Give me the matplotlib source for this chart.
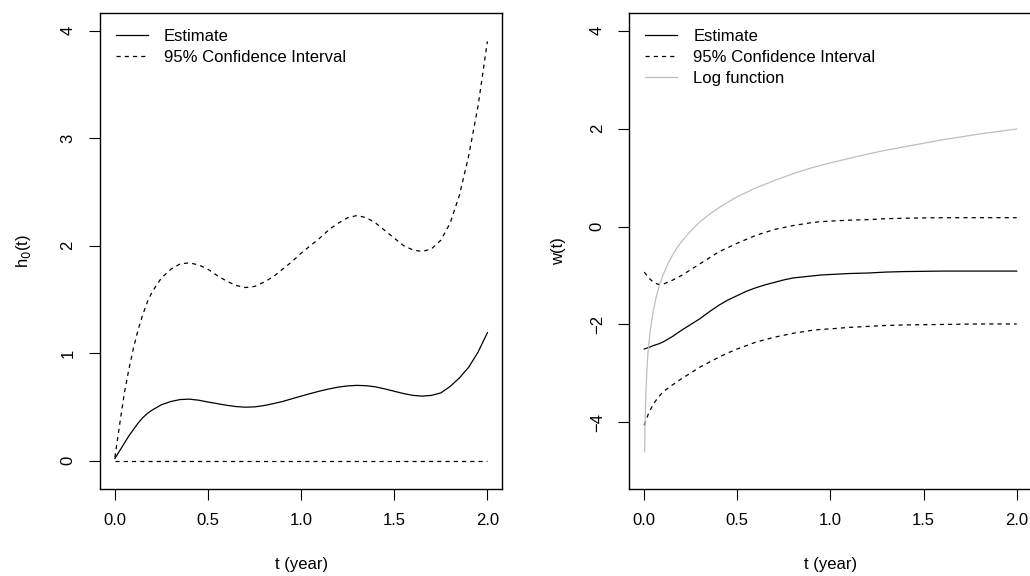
import numpy as np
import matplotlib
matplotlib.use("Agg")
import matplotlib.pyplot as plt

plt.rcParams['font.family'] = ['Liberation Sans', 'DejaVu Sans']
plt.rcParams['font.size'] = 12

# left panel: baseline hazard h0(t)
t_h = [0.0, 0.025, 0.05, 0.075, 0.1, 0.125, 0.15, 0.175, 0.2, 0.25, 0.3, 0.35,
       0.4, 0.45, 0.5, 0.55, 0.6, 0.65, 0.7, 0.75, 0.8, 0.85, 0.9, 0.95, 1.0,
       1.05, 1.1, 1.15, 1.2, 1.25, 1.3, 1.35, 1.4, 1.45, 1.5, 1.55, 1.6, 1.65,
       1.7, 1.75, 1.8, 1.85, 1.9, 1.95, 2.0]
h_est = [0.02, 0.09, 0.16, 0.23, 0.29, 0.35, 0.40, 0.44, 0.47, 0.52, 0.55,
         0.568, 0.572, 0.562, 0.545, 0.53, 0.515, 0.503, 0.497, 0.50, 0.512,
         0.53, 0.55, 0.575, 0.60, 0.624, 0.647, 0.667, 0.684, 0.695, 0.70,
         0.697, 0.686, 0.667, 0.645, 0.624, 0.607, 0.60, 0.607, 0.63, 0.69,
         0.77, 0.87, 1.01, 1.19]
h_upper = [0.03, 0.33, 0.62, 0.85, 1.05, 1.22, 1.36, 1.48, 1.57, 1.70, 1.78,
           1.83, 1.84, 1.82, 1.78, 1.72, 1.67, 1.63, 1.61, 1.62, 1.66, 1.71,
           1.78, 1.85, 1.93, 2.00, 2.07, 2.15, 2.21, 2.26, 2.28, 2.26, 2.21,
           2.14, 2.07, 2.00, 1.96, 1.945, 1.97, 2.05, 2.21, 2.47, 2.84, 3.30,
           3.90]
h_lower = [0.0] * len(t_h)

# right panel: w(t)
t_w = [0.0, 0.025, 0.05, 0.075, 0.1, 0.15, 0.2, 0.25, 0.3, 0.35, 0.4, 0.45,
       0.5, 0.55, 0.6, 0.65, 0.7, 0.75, 0.8, 0.85, 0.9, 0.95, 1.0, 1.1, 1.2,
       1.3, 1.4, 1.6, 1.8, 2.0]
w_est = [-2.50, -2.47, -2.43, -2.40, -2.36, -2.25, -2.12, -2.00, -1.88, -1.74,
         -1.61, -1.50, -1.41, -1.32, -1.25, -1.19, -1.14, -1.09, -1.05, -1.03,
         -1.01, -0.99, -0.98, -0.96, -0.95, -0.93, -0.92, -0.91, -0.91, -0.91]
w_upper = [-0.93, -1.05, -1.14, -1.18, -1.18, -1.10, -1.00, -0.88, -0.76,
           -0.64, -0.52, -0.43, -0.34, -0.26, -0.18, -0.12, -0.06, -0.02, 0.02,
           0.05, 0.08, 0.10, 0.11, 0.13, 0.14, 0.16, 0.17, 0.18, 0.18, 0.18]
w_lower = [-4.06, -3.80, -3.62, -3.49, -3.38, -3.24, -3.11, -2.99, -2.87, -2.77,
           -2.67, -2.58, -2.50, -2.43, -2.36, -2.31, -2.26, -2.22, -2.18, -2.15,
           -2.12, -2.10, -2.09, -2.06, -2.04, -2.02, -2.01, -2.00, -1.99, -1.99]

t_log = [0.0027, 0.004, 0.006, 0.01, 0.015, 0.02, 0.03, 0.04, 0.05, 0.065,
         0.08, 0.1, 0.125, 0.15, 0.175, 0.2, 0.25, 0.3, 0.35, 0.4, 0.45, 0.5,
         0.6, 0.7, 0.8, 0.9, 1.0, 1.1, 1.2, 1.3, 1.4, 1.5, 1.6, 1.7, 1.8, 1.9,
         2.0]
w_log = [-4.6, -4.2, -3.8, -3.3, -2.9, -2.6, -2.2, -1.92, -1.7, -1.43, -1.22,
         -1.0, -0.78, -0.6, -0.44, -0.31, -0.09, 0.1, 0.25, 0.38, 0.5, 0.61,
         0.79, 0.94, 1.08, 1.2, 1.3, 1.39, 1.48, 1.56, 1.63, 1.7, 1.77, 1.83,
         1.89, 1.94, 1.99]

x_ticks = [0.0, 0.5, 1.0, 1.5, 2.0]

fig = plt.figure(figsize=(10.3, 5.76), dpi=100)
ax1 = fig.add_axes([100 / 1030, 87 / 576, 402.3 / 1030, 476 / 576])
ax2 = fig.add_axes([629.3 / 1030, 87 / 576, 402.3 / 1030, 476 / 576])

lw = 0.9
dash = (3.3, 3.3)

ax1.plot(t_h, h_est, color='black', lw=lw, label='Estimate')
ax1.plot(t_h, h_upper, color='black', lw=lw, dashes=dash, label='95% Confidence Interval')
ax1.plot(t_h, h_lower, color='black', lw=lw, dashes=dash)
ax1.set_ylim(-0.264, 4.164)
ax1.set_yticks([0, 1, 2, 3, 4])
ax1.set_ylabel('h$_0$(t)')

ax2.plot(t_w, w_est, color='black', lw=lw, label='Estimate')
ax2.plot(t_w, w_upper, color='black', lw=lw, dashes=dash, label='95% Confidence Interval')
ax2.plot(t_w, w_lower, color='black', lw=lw, dashes=dash)
ax2.plot(t_log, w_log, color='#bebebe', lw=lw, label='Log function')
ax2.set_ylim(-5.36, 4.36)
ax2.set_yticks([-4, -2, 0, 2, 4])
ax2.set_ylabel('w(t)')

for ax, ylab_x in [(ax1, -0.191), (ax2, -0.177)]:
    ax.set_xlim(-0.08, 2.08)
    ax.set_xticks(x_ticks)
    ax.set_xticklabels([f'{v:.1f}' for v in x_ticks])
    ax.set_xlabel('t (year)')
    ax.xaxis.set_label_coords(0.5, -0.158)
    ax.xaxis.label.set_va('center')
    ax.yaxis.set_label_coords(ylab_x, 0.5)
    ax.yaxis.label.set_va('center')
    ax.tick_params(axis='both', direction='out', length=7.6, width=0.8,
                   labelsize=12)
    ax.tick_params(axis='x', pad=10)
    ax.tick_params(axis='y', pad=10, labelrotation=90)
    for lbl in ax.get_yticklabels():
        lbl.set_va('center')
    for sp in ax.spines.values():
        sp.set_linewidth(1.0)
    ax.legend(loc='upper left', bbox_to_anchor=(0.0398, 0.967), frameon=False,
              borderpad=0, borderaxespad=0, handlelength=1.92,
              handletextpad=0.96, labelspacing=0.36, fontsize=12)

fig.savefig('out.png', dpi=100)
